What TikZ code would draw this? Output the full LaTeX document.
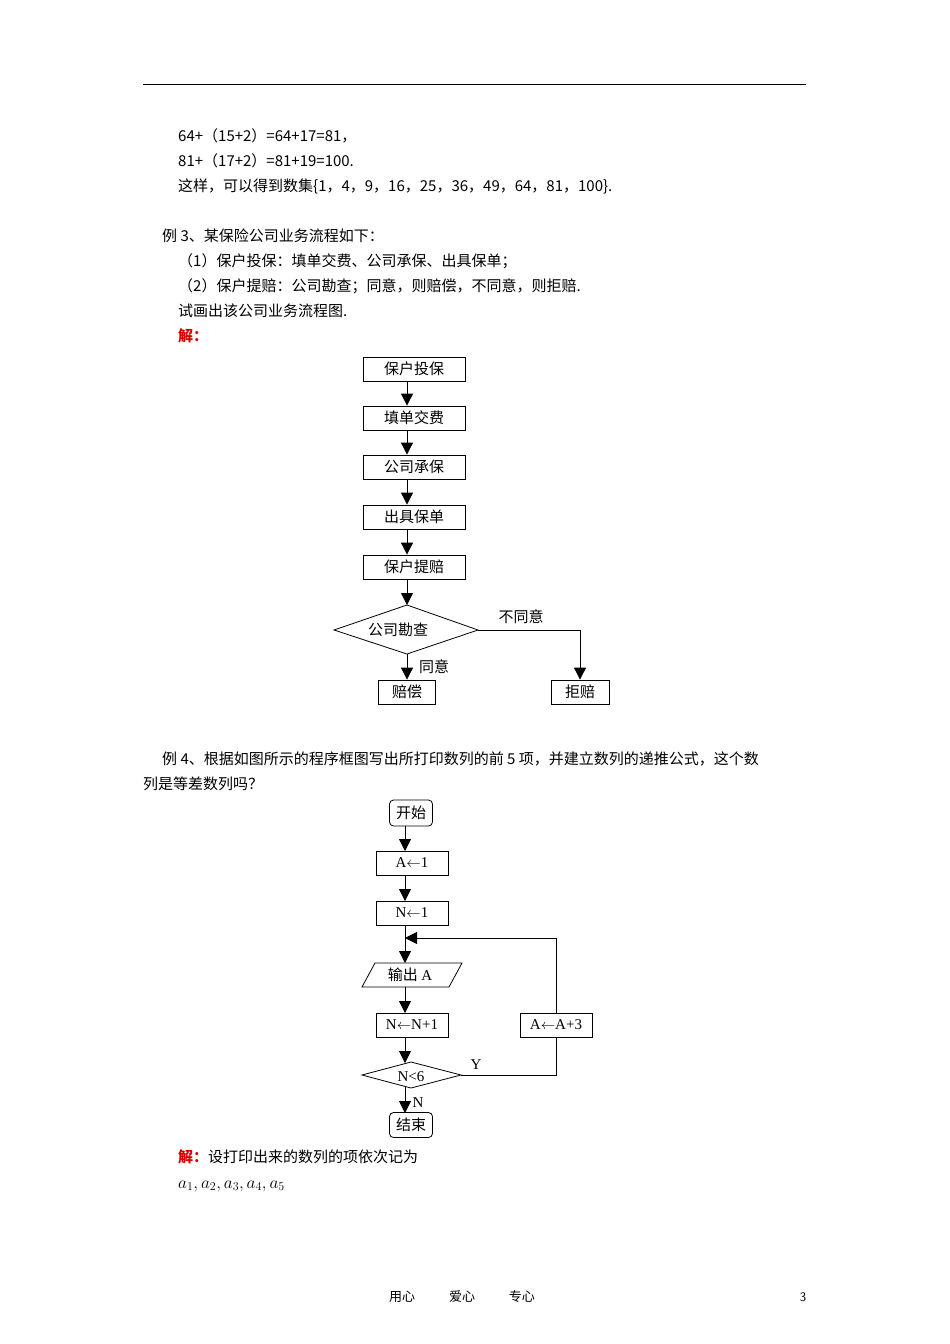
\documentclass[tikz,border=0pt]{standalone}
\usepackage{fontspec}
\setmainfont{Liberation Serif}
\newfontfamily\cjk{Noto Sans CJK SC}
\usetikzlibrary{arrows.meta}
\begin{document}
\begin{tikzpicture}[x=1pt,y=-1pt,
  txt/.style={anchor=west,inner sep=0pt,font=\fontsize{15}{17}\selectfont\cjk},
  fb/.style={draw,line width=0.8pt,inner sep=0pt,font=\fontsize{15}{17}\selectfont\cjk},
  ln/.style={line width=0.8pt},
  ar/.style={line width=0.8pt,-{Triangle[width=12pt,length=12pt]}},
  lab/.style={inner sep=0pt,font=\fontsize{15}{17}\selectfont\cjk}]
\path[use as bounding box,fill=white] (0,0) rectangle (950,1344);
\draw[line width=0.6pt] (143,84) -- (806,84);
\node[txt] (l1) at (178,136) {64+（15+2）=64+17=81，};
\node[txt] (l2) at (178,161) {81+（17+2）=81+19=100.};
\node[txt] (l3) at (178,186) {这样，可以得到数集\{1，4，9，16，25，36，49，64，81，100\}.};
\node[txt] (l4) at (162,236) {例 3、某保险公司业务流程如下：};
\node[txt] (l5) at (178,261) {（1）保户投保：填单交费、公司承保、出具保单；};
\node[txt] (l6) at (178,286) {（2）保户提赔：公司勘查；同意，则赔偿，不同意，则拒赔.};
\node[txt] (l7) at (178,311) {试画出该公司业务流程图.};
\node[txt,text=red!85!black] (l8) at (178,336) {\bfseries 解：};
% flowchart 1
\node[fb,minimum width=102pt,minimum height=24pt] (a1) at (414,369) {保户投保};
\node[fb,minimum width=102pt,minimum height=24pt] (a2) at (414,418) {填单交费};
\node[fb,minimum width=102pt,minimum height=24pt] (a3) at (414,467) {公司承保};
\node[fb,minimum width=102pt,minimum height=24pt] (a4) at (414,517) {出具保单};
\node[fb,minimum width=102pt,minimum height=24pt] (a5) at (414,567) {保户提赔};
\coordinate (dT) at (407,605); \coordinate (dB) at (407,654);
\coordinate (dL) at (334,630); \coordinate (dR) at (478,630);
\draw[ln] (dT) -- (dR) -- (dB) -- (dL) -- cycle;
\node[lab] (d1) at (398,630) {公司勘查};
\node[fb,minimum width=57pt,minimum height=24pt] (b1) at (407,692) {赔偿};
\node[fb,minimum width=58pt,minimum height=24pt] (b2) at (580,692) {拒赔};
\foreach \u/\v in {a1/a2,a2/a3,a3/a4,a4/a5}
  \draw[ar] (\u.south -| 407,0) -- (\v.north -| 407,0);
\draw[ar] (a5.south -| 407,0) -- (dT);
\draw[ar] (dB) -- (b1.north);
\draw[ar] (dR) -| (b2.north);
\node[lab] (y1) at (521,617) {不同意};
\node[lab] (y2) at (434,667) {同意};
% example 4
\node[txt] (m1) at (162,759) {例 4、根据如图所示的程序框图写出所打印数列的前 5 项，并建立数列的递推公式，这个数};
\node[txt] (m2) at (143,784) {列是等差数列吗？};
\node[fb,rounded corners=4pt,minimum width=43pt,minimum height=26pt] (s) at (411,813) {开始};
\node[fb,minimum width=72pt,minimum height=24pt,font=\fontsize{15}{17}\selectfont] (c1) at (412,863) {A$\leftarrow$1};
\node[fb,minimum width=72pt,minimum height=24pt,font=\fontsize{15}{17}\selectfont] (c2) at (412,913) {N$\leftarrow$1};
\coordinate (j) at (405,938);
\coordinate (p1) at (362,987); \coordinate (p2) at (375,963); \coordinate (p3) at (462,963); \coordinate (p4) at (449,987);
\draw[ln] (p1) -- (p2) -- (p3) -- (p4) -- cycle;
\node[lab] (o) at (410,975) {输出 {\rmfamily A}};
\node[fb,minimum width=72pt,minimum height=24pt,font=\fontsize{15}{17}\selectfont] (c3) at (412,1025) {N$\leftarrow$N+1};
\node[fb,minimum width=72pt,minimum height=24pt,font=\fontsize{15}{17}\selectfont] (c4) at (556,1025) {A$\leftarrow$A+3};
\coordinate (qT) at (411,1062); \coordinate (qB) at (411,1088);
\coordinate (qL) at (362,1075); \coordinate (qR) at (461,1075);
\draw[ln] (qT) -- (qR) -- (qB) -- (qL) -- cycle;
\node[lab,font=\fontsize{15}{17}\selectfont] (q) at (411,1077) {N<6};
\node[fb,rounded corners=4pt,minimum width=43pt,minimum height=25pt] (e) at (411,1125) {结束};
\draw[ar] (405,826) -- (405,851);
\draw[ar] (405,875) -- (405,901);
\draw[ln] (405,925) -- (j);
\draw[ar] (j) -- (405,963);
\draw[ar] (405,987) -- (405,1013);
\draw[ar] (405,1037) -- (405,1063);
\draw[ar] (405,1087) -- (405,1113);
\draw[ln] (qR) -| (c4.south);
\draw[ar] (c4.north) |- (j);
\node[lab,font=\fontsize{15}{17}\selectfont] (yy) at (476,1065) {Y};
\node[lab,font=\fontsize{15}{17}\selectfont] (nn) at (418,1103) {N};
\node[txt] (n1) at (178,1157) {{\color{red!85!black}\bfseries 解：}设打印出来的数列的项依次记为};
\node[txt,font=\fontsize{18}{20}\selectfont] (n2) at (178,1186) {$a_1,a_2,a_3,a_4,a_5$};
\node[lab,font=\fontsize{13}{15}\selectfont\cjk] (f) at (462,1297) {用心\hspace{2.6em}爱心\hspace{2.6em}专心};
\node[lab,font=\fontsize{13}{15}\selectfont\sffamily] (pg) at (803,1297) {3};
\end{tikzpicture}
\end{document}
